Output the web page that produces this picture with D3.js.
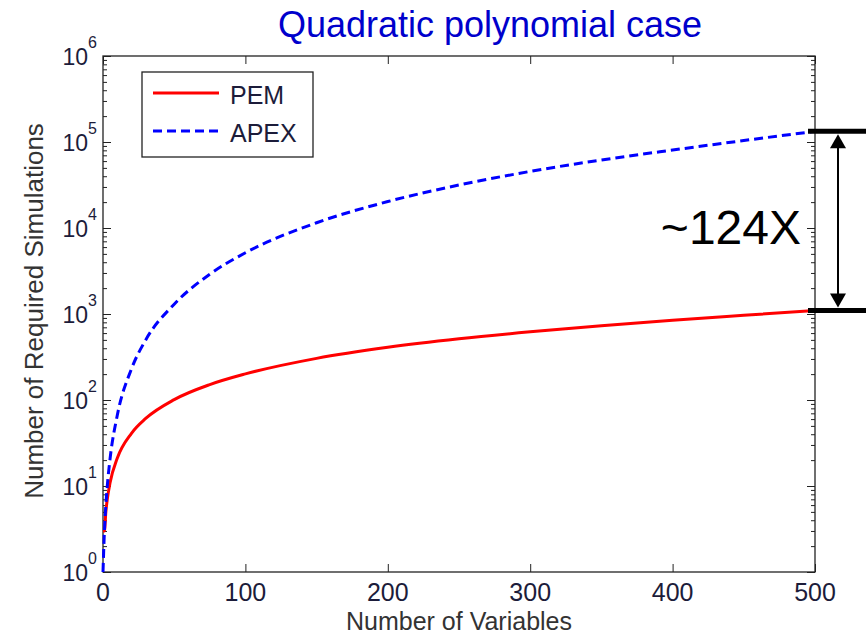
<!DOCTYPE html>
<html>
<head>
<meta charset="utf-8">
<style>
    body { margin: 0; background: white; font-family: Arial, "Liberation Sans", Helvetica, sans-serif; }
    .axis path, .axis line { stroke: #222; }
</style>
<script src="https://cdn.jsdelivr.net/npm/d3@7"></script>
</head>
<body>
<svg id="chart"></svg>
<script>

// values
let numVars = [0, 1, 2, 3, 5, 10, 20, 30, 50, 75, 100, 150, 200, 250, 300, 350, 400, 450, 500];
let pemSims = [3, 3, 5, 7, 11, 21, 41, 61, 101, 151, 201, 305, 410, 515, 620, 730, 845, 965, 1100];
let apexSims = [1, 3, 6, 10, 21, 66, 230, 500, 1300, 2900, 5150, 11500, 20300, 31600, 45500, 61800, 80600, 104000, 133000];
let xTicks = [0, 100, 200, 300, 400, 500];
let yExponents = [0, 1, 2, 3, 4, 5, 6];
let seriesNames = ["PEM", "APEX"];

let width = 866, height = 637;
let margin = { top: 56, left: 103, right: 51, bottom: 65 };
let bodyW = width - margin.left - margin.right;
let bodyH = height - margin.top - margin.bottom;

let svg = d3.select("#chart").attr("width", width).attr("height", height);

let x = d3.scaleLinear().domain([0, 500]).range([margin.left, margin.left + bodyW]);
let y = d3.scaleLog().domain([1, 1e6]).range([margin.top + bodyH, margin.top]);

// minor ticks 2..9 per decade
let minor = [];
yExponents.slice(0, -1).forEach(e => {
    for (let k = 2; k <= 9; k++) minor.push(k * Math.pow(10, e));
});
let major = yExponents.map(e => Math.pow(10, e));

function yAxis(g, side, values, size) {
    let ax = side == "left" ? d3.axisLeft(y) : d3.axisRight(y);
    ax.tickValues(values).tickSize(-size).tickFormat("");
    g.call(ax);
    g.select(".domain").remove();
}

let pLeft = margin.left, pRight = margin.left + bodyW;
let pTop = margin.top, pBottom = margin.top + bodyH;

svg.append("g").attr("class", "axis").attr("transform", `translate(${pLeft},0)`).call(g => yAxis(g, "left", minor, 4));
svg.append("g").attr("class", "axis").attr("transform", `translate(${pLeft},0)`).call(g => yAxis(g, "left", major, 8));
svg.append("g").attr("class", "axis").attr("transform", `translate(${pRight},0)`).call(g => yAxis(g, "right", minor, 4));
svg.append("g").attr("class", "axis").attr("transform", `translate(${pRight},0)`).call(g => yAxis(g, "right", major, 8));

let xb = svg.append("g").attr("class", "axis").attr("transform", `translate(0,${pBottom})`)
    .call(d3.axisBottom(x).tickValues(xTicks).tickSize(-8).tickFormat(""));
xb.select(".domain").remove();
let xt = svg.append("g").attr("class", "axis").attr("transform", `translate(0,${pTop})`)
    .call(d3.axisTop(x).tickValues(xTicks).tickSize(-8).tickFormat(""));
xt.select(".domain").remove();

svg.append("rect")
    .attr("x", pLeft).attr("y", pTop).attr("width", bodyW).attr("height", bodyH)
    .attr("fill", "none").attr("stroke", "#222").attr("stroke-width", 1.3);

// tick labels
svg.append("g").selectAll("text").data(xTicks).enter().append("text")
    .attr("x", d => x(d)).attr("y", pBottom + 29)
    .attr("text-anchor", "middle")
    .attr("font-size", 25).attr("fill", "#1c1c3a")
    .text(d => d);

let yl = svg.append("g").selectAll("text").data(yExponents).enter().append("text")
    .attr("x", pLeft - 6).attr("y", d => y(Math.pow(10, d)) + 9)
    .attr("text-anchor", "end")
    .attr("font-size", 23).attr("fill", "#1c1c3a");
yl.append("tspan").text("10");
yl.append("tspan").attr("dy", -17).attr("font-size", 16).text(d => d);

// axis titles
svg.append("text")
    .attr("x", (pLeft + pRight) / 2).attr("y", 630)
    .attr("text-anchor", "middle").attr("font-size", 25).attr("fill", "#333")
    .text("Number of Variables");
svg.append("text")
    .attr("transform", `translate(43,${(pTop + pBottom) / 2 - 3}) rotate(-90)`)
    .attr("text-anchor", "middle").attr("font-size", 26).attr("fill", "#333")
    .text("Number of Required Simulations");

// title
svg.append("text")
    .attr("x", 490).attr("y", 37)
    .attr("text-anchor", "middle").attr("font-size", 36).attr("fill", "#0000cc")
    .text("Quadratic polynomial case");

// series
let line = d3.line().x(d => x(d[0])).y(d => y(d[1])).curve(d3.curveMonotoneX);
let pem = numVars.map((n, i) => [n, pemSims[i]]);
let apex = numVars.map((n, i) => [n, apexSims[i]]);

svg.append("path").datum(pem).attr("d", line)
    .attr("fill", "none").attr("stroke", "#ff0000").attr("stroke-width", 3);
svg.append("path").datum(apex).attr("d", line)
    .attr("fill", "none").attr("stroke", "#0000ff").attr("stroke-width", 3)
    .attr("stroke-dasharray", "9,5");

// legend
let lg = svg.append("g");
lg.append("rect").attr("x", 142).attr("y", 72).attr("width", 171).attr("height", 85)
    .attr("fill", "white").attr("stroke", "#222").attr("stroke-width", 1.3);
seriesNames.forEach((name, i) => {
    let ly = 93 + i * 38;
    lg.append("line").attr("x1", 153).attr("x2", 219).attr("y1", ly).attr("y2", ly)
        .attr("stroke", i == 0 ? "#ff0000" : "#0000ff").attr("stroke-width", 3)
        .attr("stroke-dasharray", i == 0 ? null : "9,5");
    lg.append("text").attr("x", 230).attr("y", ly + 11)
        .attr("font-size", 25).attr("fill", "#1c1c3a").text(name);
});

// ratio annotation
let yHi = y(apexSims[apexSims.length - 1]);
let yLo = y(pemSims[pemSims.length - 1]);
svg.append("line").attr("x1", 808).attr("x2", 866).attr("y1", yHi).attr("y2", yHi)
    .attr("stroke", "black").attr("stroke-width", 5);
svg.append("line").attr("x1", 808).attr("x2", 866).attr("y1", yLo).attr("y2", yLo)
    .attr("stroke", "black").attr("stroke-width", 5);
let arX = 838;
svg.append("line").attr("x1", arX).attr("x2", arX).attr("y1", yHi + 12).attr("y2", yLo - 12)
    .attr("stroke", "black").attr("stroke-width", 2);
svg.append("path").attr("d", `M${arX},${yHi + 3} L${arX - 8},${yHi + 17} L${arX + 8},${yHi + 17} Z`).attr("fill", "black");
svg.append("path").attr("d", `M${arX},${yLo - 3} L${arX - 8},${yLo - 17} L${arX + 8},${yLo - 17} Z`).attr("fill", "black");
svg.append("text").attr("x", 801).attr("y", (yHi + yLo) / 2 + 23)
    .attr("text-anchor", "end").attr("font-size", 48).attr("fill", "black")
    .text("~124X");

</script>
</body>
</html>
